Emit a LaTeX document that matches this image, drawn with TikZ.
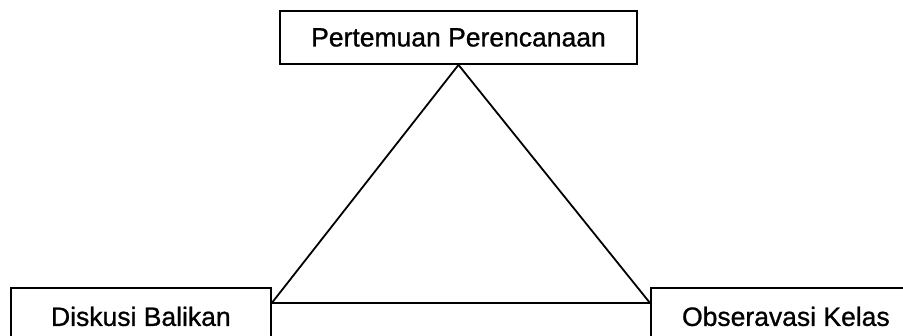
\documentclass[tikz,border=0pt]{standalone}
\usepackage{fontspec}
\setmainfont{Liberation Sans}
\newfontfamily\labfont{Liberation Sans}[FakeBold=0.9]
\begin{document}
\begin{tikzpicture}[x=1pt,y=1pt,
  box/.style={draw=black, line width=1.8pt, inner xsep=0pt, font=\labfont\fontsize{26.5}{30}\selectfont},
  link/.style={draw=black, line width=1.8pt}]
\useasboundingbox (0,0) rectangle (903,336);
\clip (0,0) rectangle (903,336);
\fill[white] (0,0) rectangle (903,336);
\node[box, minimum width=357pt, minimum height=53pt, inner ysep=0pt] (top) at (458.5,298.5) {Pertemuan Perencanaan};
\node[box, anchor=north west, minimum width=260pt, text height=20pt, text depth=40pt, inner ysep=18pt] (left) at (10,49) {Diskusi Balikan};
\node[box, anchor=north west, minimum width=270pt, text height=20pt, text depth=40pt, inner ysep=18pt] (right) at (650,49) {Obseravasi Kelas};
\coordinate (jl) at ([yshift=-16pt]left.north east);
\coordinate (jr) at ([yshift=-16pt]right.north west);
\draw[link] (top.south) -- (jl);
\draw[link] (top.south) -- (jr);
\draw[link] (jl) -- (jr);
\end{tikzpicture}
\end{document}
